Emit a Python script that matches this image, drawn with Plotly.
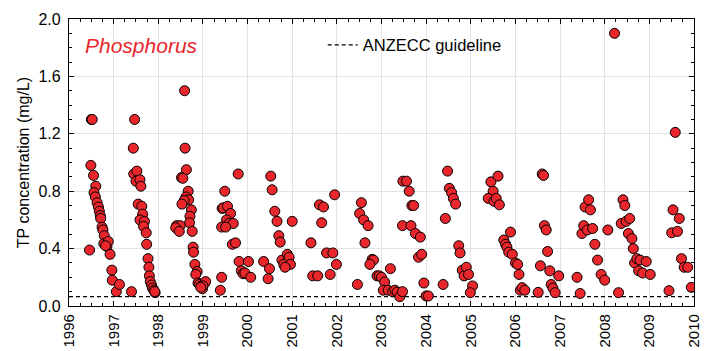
import plotly.graph_objects as go

# Sampling dates (decimal years) and total phosphorus (mg/L)
dates = [
    1996.46, 1996.50, 1996.52, 1996.49, 1996.55, 1996.60, 1996.56, 1996.59, 1996.63, 1996.66,
    1996.68, 1996.70, 1996.71, 1996.74, 1996.76, 1996.79, 1996.78, 1996.85, 1996.88, 1996.82,
    1996.92, 1996.96, 1996.97, 1997.06, 1997.13, 1997.40,
    1997.47, 1997.44, 1997.45, 1997.52, 1997.50, 1997.59, 1997.61, 1997.55, 1997.63, 1997.65,
    1997.59, 1997.69, 1997.67, 1997.73, 1997.74, 1997.77, 1997.79, 1997.80, 1997.82, 1997.85,
    1997.87, 1997.90, 1997.93, 1997.92,
    1998.59, 1998.60, 1998.63, 1998.52, 1998.55, 1998.67, 1998.62, 1998.68, 1998.58, 1998.53,
    1998.74, 1998.71, 1998.70, 1998.76, 1998.41, 1998.49, 1998.39, 1998.47, 1998.78, 1998.79,
    1998.82, 1998.87, 1998.84, 1998.89, 1998.92, 1998.96, 1998.99, 1999.04, 1999.06, 1999.00,
    1998.95,
    1999.39, 1999.42, 1999.49, 1999.43, 1999.46, 1999.55, 1999.62, 1999.53, 1999.58, 1999.68,
    1999.42, 1999.51, 1999.66, 1999.73, 1999.79, 1999.81, 1999.86, 1999.90, 1999.94, 2000.02,
    2000.07,
    2000.36, 2000.49, 2000.46, 2000.52, 2000.55, 2000.61, 2000.66, 2000.70, 2000.73, 2000.77,
    2000.81, 2000.89, 2000.93, 2000.96, 2000.84, 2001.00,
    2001.42, 2001.46, 2001.57, 2001.61, 2001.70, 2001.66, 2001.77, 2001.85, 2001.91, 2001.95,
    2001.99,
    2002.46, 2002.55, 2002.51, 2002.60, 2002.70, 2002.63, 2002.79, 2002.82, 2002.74, 2002.90,
    2002.95, 2003.00, 2003.07, 2003.04, 2003.15, 2003.25, 2003.30, 2003.35, 2003.41, 2003.47,
    2003.20,
    2003.48, 2003.56, 2003.62, 2003.68, 2003.72, 2003.47, 2003.66, 2003.76, 2003.87, 2003.83,
    2003.90, 2003.95, 2004.00, 2004.05,
    2004.38, 2004.43, 2004.48, 2004.52, 2004.57, 2004.61, 2004.66, 2004.73, 2004.76, 2004.81,
    2004.85, 2004.90, 2004.95, 2005.04, 2004.99,
    2005.45, 2005.61, 2005.50, 2005.39, 2005.52, 2005.57, 2005.64, 2005.89, 2005.74, 2005.78,
    2005.81, 2005.85, 2005.93, 2006.00, 2006.05, 2006.08, 2006.11, 2006.15, 2006.21,
    2006.51, 2006.56, 2006.60, 2006.63, 2006.65, 2006.69, 2006.72, 2006.77, 2006.80, 2006.84,
    2006.89, 2006.97,
    2007.38, 2007.45, 2007.49, 2007.53, 2007.56, 2007.64, 2007.68, 2007.61, 2007.73, 2007.78,
    2007.84, 2007.92, 2008.00, 2008.07,
    2008.22, 2008.31, 2008.37, 2008.41, 2008.45, 2008.48, 2008.56, 2008.53, 2008.61, 2008.64,
    2008.67, 2008.72, 2008.79, 2008.76, 2008.85, 2008.93, 2009.02,
    2009.44, 2009.50, 2009.53, 2009.58, 2009.63, 2009.67, 2009.72, 2009.78, 2009.86, 2009.94,
]
tp = [
    0.39, 1.30, 1.30, 0.98, 0.91, 0.835, 0.79, 0.76, 0.72, 0.69,
    0.66, 0.63, 0.61, 0.55, 0.53, 0.49, 0.435, 0.415, 0.45, 0.42,
    0.36, 0.25, 0.18, 0.10, 0.15, 0.10,
    1.30, 1.10, 0.92, 0.94, 0.87, 0.88, 0.835, 0.71, 0.695, 0.64,
    0.60, 0.59, 0.555, 0.51, 0.43, 0.33, 0.27, 0.21, 0.17, 0.146,
    0.125, 0.11, 0.093, 0.10,
    1.50, 1.10, 0.95, 0.895, 0.89, 0.80, 0.76, 0.74, 0.735, 0.71,
    0.67, 0.625, 0.58, 0.52, 0.56, 0.56, 0.545, 0.52, 0.41, 0.375,
    0.29, 0.24, 0.22, 0.16, 0.15, 0.137, 0.12, 0.16, 0.17, 0.14,
    0.13,
    0.11, 0.20, 0.80, 0.68, 0.685, 0.695, 0.645, 0.60, 0.575, 0.575,
    0.55, 0.55, 0.43, 0.44, 0.92, 0.31, 0.245, 0.225, 0.23, 0.31,
    0.20,
    0.31, 0.26, 0.19, 0.905, 0.81, 0.66, 0.59, 0.49, 0.445, 0.32,
    0.29, 0.36, 0.34, 0.29, 0.27, 0.59,
    0.44, 0.21, 0.21, 0.705, 0.69, 0.58, 0.37, 0.22, 0.37, 0.775,
    0.29,
    0.15, 0.72, 0.645, 0.60, 0.56, 0.44, 0.325, 0.32, 0.29, 0.21,
    0.21, 0.20, 0.167, 0.11, 0.11, 0.10, 0.11, 0.097, 0.065, 0.10,
    0.26,
    0.87, 0.87, 0.80, 0.70, 0.70, 0.56, 0.56, 0.505, 0.48, 0.34,
    0.36, 0.16, 0.07, 0.07,
    0.15, 0.61, 0.94, 0.82, 0.79, 0.75, 0.71, 0.42, 0.37, 0.25,
    0.21, 0.27, 0.22, 0.14, 0.093,
    0.865, 0.905, 0.80, 0.75, 0.73, 0.75, 0.705, 0.515, 0.46, 0.43,
    0.41, 0.375, 0.36, 0.30, 0.29, 0.22, 0.11, 0.128, 0.11,
    0.095, 0.28, 0.92, 0.91, 0.56, 0.53, 0.38, 0.245, 0.15, 0.125,
    0.093, 0.21,
    0.20, 0.087, 0.505, 0.56, 0.69, 0.74, 0.67, 0.53, 0.54, 0.43,
    0.32, 0.22, 0.18, 0.53,
    1.90, 0.093, 0.575, 0.74, 0.70, 0.59, 0.61, 0.505, 0.47, 0.40,
    0.30, 0.33, 0.32, 0.245, 0.23, 0.31, 0.22,
    0.107, 0.51, 0.67, 1.21, 0.52, 0.61, 0.33, 0.27, 0.27, 0.13,
]

guideline_x = [1996, 2010]
guideline_value = 0.065
year_ticks = list(range(1996, 2011))
y_ticks = [0.0, 0.4, 0.8, 1.2, 1.6, 2.0]

FONT = "Liberation Sans, Arial, sans-serif"

fig = go.Figure()
fig.add_trace(go.Scatter(
    x=guideline_x, y=[guideline_value] * len(guideline_x),
    mode="lines", name="ANZECC guideline",
    line=dict(color="black", width=1.3, dash="4px,3px"),
    showlegend=True,
))
fig.add_trace(go.Scatter(
    x=dates, y=tp, mode="markers", name="TP",
    marker=dict(size=10, color="#e8262b", line=dict(color="black", width=1)),
    showlegend=False,
))

axis_common = dict(
    showline=True, linecolor="black", linewidth=1.3, mirror="allticks",
    ticks="inside", ticklen=5, tickcolor="black", tickwidth=1,
    showgrid=True, gridcolor="#e3e3e3", gridwidth=1, zeroline=False,
    automargin=False,
)

fig.update_xaxes(
    range=[1996, 2010], tickmode="array", tickvals=year_ticks,
    ticktext=[str(y) for y in year_ticks], tickangle=-90,
    ticklabelstandoff=1,
    tickfont=dict(family=FONT, size=15, color="black"),
    minor=dict(dtick=0.25, ticks="inside", ticklen=3, tickcolor="black", showgrid=False),
    **axis_common,
)
fig.update_yaxes(
    range=[0, 2.0], tickmode="array", tickvals=y_ticks,
    ticktext=[f"{v:.1f}" for v in y_ticks],
    ticklabelstandoff=4,
    tickfont=dict(family=FONT, size=16, color="black"),
    minor=dict(dtick=0.1, ticks="inside", ticklen=3, tickcolor="black", showgrid=False),
    title=dict(text="TP concentration (mg/L)", font=dict(family=FONT, size=16, color="black"), standoff=4),
    **axis_common,
)

fig.add_annotation(
    text="<i>Phosphorus</i>", xref="paper", yref="paper", x=0.022, y=0.909,
    xanchor="left", yanchor="middle", showarrow=False,
    font=dict(family=FONT, size=21, color="#e8262b"),
)

fig.update_layout(
    width=710, height=351,
    margin=dict(l=69, r=16, t=19, b=45, pad=0),
    plot_bgcolor="white", paper_bgcolor="white",
    legend=dict(x=0.406, y=0.909, xanchor="left", yanchor="middle",
                bgcolor="rgba(0,0,0,0)", font=dict(family=FONT, size=16.5, color="black"),
                itemwidth=30),
    font=dict(family=FONT, color="black"),
)

fig.write_html(
    "out.html",
    config={"displayModeBar": False},
    post_script="document.body.style.margin='0px';document.body.style.overflow='hidden';",
)
